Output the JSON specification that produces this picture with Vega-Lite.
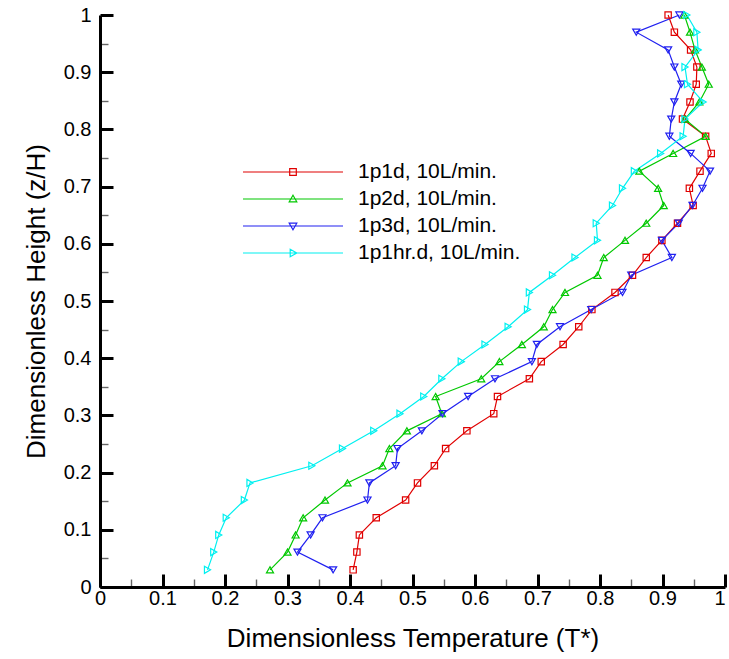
{
  "$schema": "https://vega.github.io/schema/vega-lite/v6.json",
  "width": 625,
  "height": 572,
  "autosize": {"type": "none"},
  "padding": {"left": 100, "top": 15, "right": 4, "bottom": 72},
  "background": "white",
  "config": {
    "view": {"stroke": null},
    "font": "Liberation Sans",
    "axis": {
      "grid": false,
      "domainColor": "black",
      "domainWidth": 3,
      "labelFont": "Liberation Sans",
      "labelFontSize": 20,
      "labelColor": "black",
      "titleFont": "Liberation Sans",
      "titleFontSize": 26,
      "titleFontWeight": "normal",
      "titleColor": "black",
      "labelOverlap": false,
      "labelFlush": false,
      "values": [0,0.02,0.04,0.06,0.08,0.1,0.12,0.14,0.16,0.18,0.2,0.22,0.24,0.26,0.28,0.3,0.32,0.34,0.36,0.38,0.4,0.42,0.44,0.46,0.48,0.5,0.52,0.54,0.56,0.58,0.6,0.62,0.64,0.66,0.68,0.7,0.72,0.74,0.76,0.78,0.8,0.82,0.84,0.86,0.88,0.9,0.92,0.94,0.96,0.98,1],
      "labelExpr": "abs(datum.value*10-round(datum.value*10))<1e-6 ? format(datum.value, '.1~f') : ''",
      "tickSize": {"condition": {"test": "abs(datum.value*10-round(datum.value*10))<1e-6", "value": -13}, "value": -8},
      "tickColor": {"condition": {"test": "abs(datum.value*10-round(datum.value*10))<1e-6", "value": "black"}, "value": "#666666"},
      "tickWidth": {"condition": {"test": "abs(datum.value*10-round(datum.value*10))<1e-6", "value": 3}, "value": 1.4}
    },
    "legend": {
      "labelFont": "Liberation Sans",
      "labelFontSize": 21,
      "labelColor": "black",
      "labelLimit": 400
    }
  },
  "data": {
    "values": [
      {"series": "1p1d, 10L/min.", "z": 0.030, "t": 0.405},
      {"series": "1p1d, 10L/min.", "z": 0.061, "t": 0.411},
      {"series": "1p1d, 10L/min.", "z": 0.091, "t": 0.415},
      {"series": "1p1d, 10L/min.", "z": 0.121, "t": 0.442},
      {"series": "1p1d, 10L/min.", "z": 0.152, "t": 0.489},
      {"series": "1p1d, 10L/min.", "z": 0.182, "t": 0.508},
      {"series": "1p1d, 10L/min.", "z": 0.212, "t": 0.535},
      {"series": "1p1d, 10L/min.", "z": 0.242, "t": 0.553},
      {"series": "1p1d, 10L/min.", "z": 0.273, "t": 0.587},
      {"series": "1p1d, 10L/min.", "z": 0.303, "t": 0.630},
      {"series": "1p1d, 10L/min.", "z": 0.333, "t": 0.636},
      {"series": "1p1d, 10L/min.", "z": 0.364, "t": 0.687},
      {"series": "1p1d, 10L/min.", "z": 0.394, "t": 0.706},
      {"series": "1p1d, 10L/min.", "z": 0.424, "t": 0.741},
      {"series": "1p1d, 10L/min.", "z": 0.455, "t": 0.766},
      {"series": "1p1d, 10L/min.", "z": 0.485, "t": 0.787},
      {"series": "1p1d, 10L/min.", "z": 0.515, "t": 0.824},
      {"series": "1p1d, 10L/min.", "z": 0.545, "t": 0.852},
      {"series": "1p1d, 10L/min.", "z": 0.576, "t": 0.874},
      {"series": "1p1d, 10L/min.", "z": 0.606, "t": 0.899},
      {"series": "1p1d, 10L/min.", "z": 0.636, "t": 0.924},
      {"series": "1p1d, 10L/min.", "z": 0.667, "t": 0.949},
      {"series": "1p1d, 10L/min.", "z": 0.697, "t": 0.943},
      {"series": "1p1d, 10L/min.", "z": 0.727, "t": 0.960},
      {"series": "1p1d, 10L/min.", "z": 0.758, "t": 0.978},
      {"series": "1p1d, 10L/min.", "z": 0.788, "t": 0.969},
      {"series": "1p1d, 10L/min.", "z": 0.818, "t": 0.932},
      {"series": "1p1d, 10L/min.", "z": 0.848, "t": 0.944},
      {"series": "1p1d, 10L/min.", "z": 0.879, "t": 0.954},
      {"series": "1p1d, 10L/min.", "z": 0.909, "t": 0.955},
      {"series": "1p1d, 10L/min.", "z": 0.939, "t": 0.945},
      {"series": "1p1d, 10L/min.", "z": 0.970, "t": 0.919},
      {"series": "1p1d, 10L/min.", "z": 1.000, "t": 0.909},
      {"series": "1p2d, 10L/min.", "z": 0.030, "t": 0.272},
      {"series": "1p2d, 10L/min.", "z": 0.061, "t": 0.300},
      {"series": "1p2d, 10L/min.", "z": 0.091, "t": 0.313},
      {"series": "1p2d, 10L/min.", "z": 0.121, "t": 0.325},
      {"series": "1p2d, 10L/min.", "z": 0.152, "t": 0.360},
      {"series": "1p2d, 10L/min.", "z": 0.182, "t": 0.396},
      {"series": "1p2d, 10L/min.", "z": 0.212, "t": 0.452},
      {"series": "1p2d, 10L/min.", "z": 0.242, "t": 0.463},
      {"series": "1p2d, 10L/min.", "z": 0.273, "t": 0.491},
      {"series": "1p2d, 10L/min.", "z": 0.303, "t": 0.547},
      {"series": "1p2d, 10L/min.", "z": 0.333, "t": 0.537},
      {"series": "1p2d, 10L/min.", "z": 0.364, "t": 0.610},
      {"series": "1p2d, 10L/min.", "z": 0.394, "t": 0.639},
      {"series": "1p2d, 10L/min.", "z": 0.424, "t": 0.675},
      {"series": "1p2d, 10L/min.", "z": 0.455, "t": 0.710},
      {"series": "1p2d, 10L/min.", "z": 0.485, "t": 0.724},
      {"series": "1p2d, 10L/min.", "z": 0.515, "t": 0.744},
      {"series": "1p2d, 10L/min.", "z": 0.545, "t": 0.796},
      {"series": "1p2d, 10L/min.", "z": 0.576, "t": 0.806},
      {"series": "1p2d, 10L/min.", "z": 0.606, "t": 0.840},
      {"series": "1p2d, 10L/min.", "z": 0.636, "t": 0.874},
      {"series": "1p2d, 10L/min.", "z": 0.667, "t": 0.902},
      {"series": "1p2d, 10L/min.", "z": 0.697, "t": 0.893},
      {"series": "1p2d, 10L/min.", "z": 0.727, "t": 0.863},
      {"series": "1p2d, 10L/min.", "z": 0.758, "t": 0.917},
      {"series": "1p2d, 10L/min.", "z": 0.788, "t": 0.969},
      {"series": "1p2d, 10L/min.", "z": 0.818, "t": 0.936},
      {"series": "1p2d, 10L/min.", "z": 0.848, "t": 0.959},
      {"series": "1p2d, 10L/min.", "z": 0.879, "t": 0.974},
      {"series": "1p2d, 10L/min.", "z": 0.909, "t": 0.963},
      {"series": "1p2d, 10L/min.", "z": 0.939, "t": 0.952},
      {"series": "1p2d, 10L/min.", "z": 0.970, "t": 0.944},
      {"series": "1p2d, 10L/min.", "z": 1.000, "t": 0.935},
      {"series": "1p3d, 10L/min.", "z": 0.030, "t": 0.373},
      {"series": "1p3d, 10L/min.", "z": 0.061, "t": 0.316},
      {"series": "1p3d, 10L/min.", "z": 0.091, "t": 0.337},
      {"series": "1p3d, 10L/min.", "z": 0.121, "t": 0.356},
      {"series": "1p3d, 10L/min.", "z": 0.152, "t": 0.428},
      {"series": "1p3d, 10L/min.", "z": 0.182, "t": 0.431},
      {"series": "1p3d, 10L/min.", "z": 0.212, "t": 0.473},
      {"series": "1p3d, 10L/min.", "z": 0.242, "t": 0.476},
      {"series": "1p3d, 10L/min.", "z": 0.273, "t": 0.515},
      {"series": "1p3d, 10L/min.", "z": 0.303, "t": 0.548},
      {"series": "1p3d, 10L/min.", "z": 0.333, "t": 0.589},
      {"series": "1p3d, 10L/min.", "z": 0.364, "t": 0.632},
      {"series": "1p3d, 10L/min.", "z": 0.394, "t": 0.691},
      {"series": "1p3d, 10L/min.", "z": 0.424, "t": 0.699},
      {"series": "1p3d, 10L/min.", "z": 0.455, "t": 0.736},
      {"series": "1p3d, 10L/min.", "z": 0.485, "t": 0.786},
      {"series": "1p3d, 10L/min.", "z": 0.515, "t": 0.836},
      {"series": "1p3d, 10L/min.", "z": 0.545, "t": 0.850},
      {"series": "1p3d, 10L/min.", "z": 0.576, "t": 0.915},
      {"series": "1p3d, 10L/min.", "z": 0.606, "t": 0.899},
      {"series": "1p3d, 10L/min.", "z": 0.636, "t": 0.926},
      {"series": "1p3d, 10L/min.", "z": 0.667, "t": 0.948},
      {"series": "1p3d, 10L/min.", "z": 0.697, "t": 0.964},
      {"series": "1p3d, 10L/min.", "z": 0.727, "t": 0.976},
      {"series": "1p3d, 10L/min.", "z": 0.758, "t": 0.945},
      {"series": "1p3d, 10L/min.", "z": 0.788, "t": 0.911},
      {"series": "1p3d, 10L/min.", "z": 0.818, "t": 0.914},
      {"series": "1p3d, 10L/min.", "z": 0.848, "t": 0.919},
      {"series": "1p3d, 10L/min.", "z": 0.879, "t": 0.930},
      {"series": "1p3d, 10L/min.", "z": 0.909, "t": 0.919},
      {"series": "1p3d, 10L/min.", "z": 0.939, "t": 0.909},
      {"series": "1p3d, 10L/min.", "z": 0.970, "t": 0.858},
      {"series": "1p3d, 10L/min.", "z": 1.000, "t": 0.927},
      {"series": "1p1hr.d, 10L/min.", "z": 0.030, "t": 0.172},
      {"series": "1p1hr.d, 10L/min.", "z": 0.061, "t": 0.182},
      {"series": "1p1hr.d, 10L/min.", "z": 0.091, "t": 0.190},
      {"series": "1p1hr.d, 10L/min.", "z": 0.121, "t": 0.202},
      {"series": "1p1hr.d, 10L/min.", "z": 0.152, "t": 0.231},
      {"series": "1p1hr.d, 10L/min.", "z": 0.182, "t": 0.240},
      {"series": "1p1hr.d, 10L/min.", "z": 0.212, "t": 0.339},
      {"series": "1p1hr.d, 10L/min.", "z": 0.242, "t": 0.388},
      {"series": "1p1hr.d, 10L/min.", "z": 0.273, "t": 0.438},
      {"series": "1p1hr.d, 10L/min.", "z": 0.303, "t": 0.480},
      {"series": "1p1hr.d, 10L/min.", "z": 0.333, "t": 0.518},
      {"series": "1p1hr.d, 10L/min.", "z": 0.364, "t": 0.547},
      {"series": "1p1hr.d, 10L/min.", "z": 0.394, "t": 0.578},
      {"series": "1p1hr.d, 10L/min.", "z": 0.424, "t": 0.616},
      {"series": "1p1hr.d, 10L/min.", "z": 0.455, "t": 0.653},
      {"series": "1p1hr.d, 10L/min.", "z": 0.485, "t": 0.684},
      {"series": "1p1hr.d, 10L/min.", "z": 0.515, "t": 0.687},
      {"series": "1p1hr.d, 10L/min.", "z": 0.545, "t": 0.724},
      {"series": "1p1hr.d, 10L/min.", "z": 0.576, "t": 0.760},
      {"series": "1p1hr.d, 10L/min.", "z": 0.606, "t": 0.796},
      {"series": "1p1hr.d, 10L/min.", "z": 0.636, "t": 0.794},
      {"series": "1p1hr.d, 10L/min.", "z": 0.667, "t": 0.820},
      {"series": "1p1hr.d, 10L/min.", "z": 0.697, "t": 0.836},
      {"series": "1p1hr.d, 10L/min.", "z": 0.727, "t": 0.855},
      {"series": "1p1hr.d, 10L/min.", "z": 0.758, "t": 0.897},
      {"series": "1p1hr.d, 10L/min.", "z": 0.788, "t": 0.933},
      {"series": "1p1hr.d, 10L/min.", "z": 0.818, "t": 0.936},
      {"series": "1p1hr.d, 10L/min.", "z": 0.848, "t": 0.965},
      {"series": "1p1hr.d, 10L/min.", "z": 0.879, "t": 0.940},
      {"series": "1p1hr.d, 10L/min.", "z": 0.909, "t": 0.936},
      {"series": "1p1hr.d, 10L/min.", "z": 0.939, "t": 0.957},
      {"series": "1p1hr.d, 10L/min.", "z": 0.970, "t": 0.955},
      {"series": "1p1hr.d, 10L/min.", "z": 1.000, "t": 0.939}
    ]
  },
  "encoding": {
    "x": {"field": "t", "type": "quantitative", "scale": {"domain": [0, 1], "nice": false, "zero": false},
      "axis": {"title": "Dimensionless Temperature (T*)", "labelPadding": 14, "titlePadding": 12,
        "labelAlign": {"condition": {"test": "datum.value > 0.99", "value": "right"}, "value": "center"}}},
    "y": {"field": "z", "type": "quantitative", "scale": {"domain": [0, 1], "nice": false, "zero": false},
      "axis": {"title": "Dimensionless Height (z/H)", "labelPadding": 22, "titlePadding": 14}},
    "color": {"field": "series", "type": "nominal",
      "scale": {"domain": ["1p1d, 10L/min.", "1p2d, 10L/min.", "1p3d, 10L/min.", "1p1hr.d, 10L/min."],
                "range": ["#e00000", "#00c800", "#2020f0", "#00f0f0"]},
      "legend": {"title": null, "orient": "none", "legendX": 182, "legendY": 146, "symbolSize": 400,
        "symbolStrokeWidth": 1.2, "labelOffset": 54, "rowPadding": 6, "symbolOpacity": 1, "labelLimit": 400}}
  },
  "layer": [
    {
      "mark": {"type": "line", "strokeWidth": 1.2, "clip": false},
      "encoding": {
        "order": {"field": "z", "type": "quantitative"}
      }
    },
    {
      "transform": [{"filter": "datum.series === '1p1d, 10L/min.'"}],
      "mark": {"type": "point", "shape": "square", "filled": false, "strokeWidth": 1.2, "opacity": 1, "size": 40, "clip": false},
      "encoding": {}
    },
    {
      "transform": [{"filter": "datum.series === '1p2d, 10L/min.'"}],
      "mark": {"type": "point", "shape": "triangle-up", "filled": false, "strokeWidth": 1.2, "opacity": 1, "size": 50, "clip": false},
      "encoding": {}
    },
    {
      "transform": [{"filter": "datum.series === '1p3d, 10L/min.'"}],
      "mark": {"type": "point", "shape": "triangle-down", "filled": false, "strokeWidth": 1.2, "opacity": 1, "size": 50, "clip": false},
      "encoding": {}
    },
    {
      "transform": [{"filter": "datum.series === '1p1hr.d, 10L/min.'"}],
      "mark": {"type": "point", "shape": "triangle-right", "filled": false, "strokeWidth": 1.2, "opacity": 1, "size": 50, "clip": false},
      "encoding": {}
    },
    {
      "mark": {"type": "point", "filled": false, "strokeWidth": 1.2, "opacity": 1, "size": 0, "clip": false},
      "encoding": {
        "shape": {"field": "series", "type": "nominal",
          "scale": {"domain": ["1p1d, 10L/min.", "1p2d, 10L/min.", "1p3d, 10L/min.", "1p1hr.d, 10L/min."],
                    "range": ["M-5,0H5M-0.33,-0.33H0.33V0.33H-0.33Z", "M-5,0H5M0,-0.38L0.38,0.28H-0.38Z", "M-5,0H5M0,0.38L0.38,-0.28H-0.38Z", "M-5,0H5M0.38,0L-0.28,-0.38V0.38Z"]},
          "legend": {"title": null, "orient": "none", "legendX": 182, "legendY": 146, "symbolSize": 400,
            "symbolStrokeWidth": 1.2, "labelOffset": 54, "rowPadding": 6, "symbolOpacity": 1, "labelLimit": 400}}
      }
    }
  ]
}
